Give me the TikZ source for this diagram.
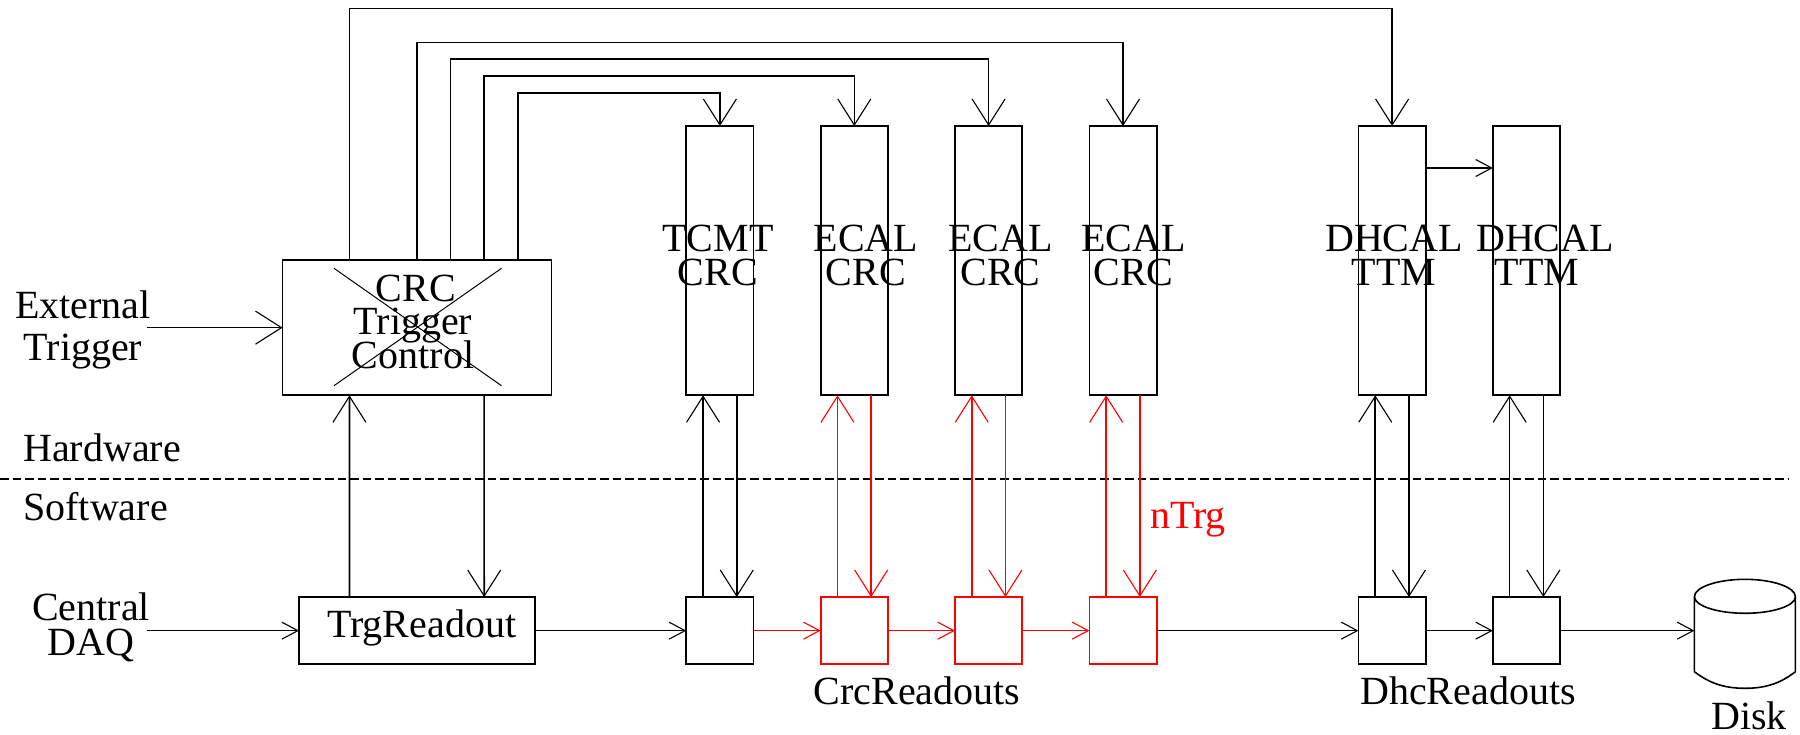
\documentclass[tikz,border=0pt]{standalone}
\usepackage{fontspec}
\setmainfont{Liberation Serif}
\usetikzlibrary{arrows.meta}
\lineskiplimit=-100pt
\definecolor{sigred}{RGB}{255,0,0}
\tikzset{
  conn/.style={line width=1.6pt,-{Straight Barb[length=26pt,width=33pt,line width=1.1pt]}},
  hconn/.style={line width=1.6pt,-{Straight Barb[length=16pt,width=17pt,line width=1.1pt]}},
  bigbox/.style={draw,line width=1.7pt,inner sep=0pt,outer sep=0pt,minimum width=67.3pt,minimum height=269.3pt},
  smallbox/.style={draw,line width=1.7pt,inner sep=0pt,outer sep=0pt,minimum width=67.3pt,minimum height=67.3pt},
  lbl/.style={inner sep=0pt,outer sep=0pt,align=center,anchor=base,font=\fontsize{40pt}{33.3pt}\selectfont},
  xline/.style={line width=1pt},
}
\begin{document}
\begin{tikzpicture}[x=1pt,y=-1pt]
\useasboundingbox (0,0) rectangle (1800,734);
% hardware boxes
\node[draw,line width=1.7pt,inner sep=0pt,outer sep=0pt,minimum width=268.9pt,minimum height=135.3pt] (crc) at (417,327.65) {};
\node[bigbox] (t0) at (719.9,260.65) {};
\node[bigbox] (t1) at (854.3,260.65) {};
\node[bigbox] (t2) at (988.6,260.65) {};
\node[bigbox] (t3) at (1123,260.65) {};
\node[bigbox] (d1) at (1392.1,260.65) {};
\node[bigbox] (d2) at (1526.5,260.65) {};
% readout boxes
\node[draw,line width=1.7pt,inner sep=0pt,outer sep=0pt,minimum width=236pt,minimum height=67.3pt] (trg) at (417,630.65) {};
\node[smallbox] (s0) at (719.9,630.65) {};
\node[smallbox,draw=sigred] (s1) at (854.3,630.65) {};
\node[smallbox,draw=sigred] (s2) at (988.6,630.65) {};
\node[smallbox,draw=sigred] (s3) at (1123,630.65) {};
\node[smallbox] (r1) at (1392.1,630.65) {};
\node[smallbox] (r2) at (1526.5,630.65) {};
% cross-out
\coordinate (xa) at (334,268.3);
\coordinate (xb) at (501.5,385.7);
\coordinate (xc) at (501.5,268.3);
\coordinate (xd) at (334,385.7);
\draw[xline] (xa) -- (xb);
\draw[xline] (xc) -- (xd);
% labels
\node[lbl] (lcrc) at (413,368) {\hspace*{6pt}CRC\\Trigger\\Control};
\node[lbl] (l0) at (718,285) {TCMT\\CRC};
\node[lbl] (l1) at (866,285) {ECAL\\CRC};
\node[lbl] (l2) at (1000.5,285) {ECAL\\CRC};
\node[lbl] (l3) at (1133.5,285) {ECAL\\CRC};
\node[lbl] (l4) at (1394,285) {DHCAL\\TTM};
\node[lbl] (l5) at (1545,285) {DHCAL\\\hspace*{-16pt}TTM};
\node[lbl,font=\fontsize{40pt}{41.5pt}\selectfont] (lext) at (83,360) {External\\Trigger};
\node[lbl,font=\fontsize{40pt}{34.3pt}\selectfont] (ldaq) at (91,655) {Central\\DAQ};
\node[lbl] (lhw) at (102,461) {Hardware};
\node[lbl] (lsw) at (95.6,520) {Software};
\node[lbl] (ltrg) at (421.7,637.3) {TrgReadout};
\node[lbl] (lcrcr) at (917,704) {CrcReadouts};
\node[lbl] (ldhc) at (1468,704) {DhcReadouts};
\node[lbl] (ldisk) at (1749,729.3) {Disk};
\node[lbl,text=sigred] (lntrg) at (1188,528.3) {nTrg};
% separator
\coordinate (sepl) at (0,479.3);
\coordinate (sepr) at (1788,479.3);
\draw[line width=2pt,dash pattern=on 8.5pt off 4pt] (sepl) -- (sepr);
% trigger fan-out
\coordinate (c1) at (d1.north |- 0,8.3);
\coordinate (c2) at (t3.north |- 0,42.3);
\coordinate (c3) at (t2.north |- 0,59);
\coordinate (c4) at (t1.north |- 0,75.7);
\coordinate (c5) at (t0.north |- 0,92.7);
\draw[conn] ([xshift=66.9pt]crc.north west) |- (c1) -- (d1.north);
\draw[conn] ([xshift=134.2pt]crc.north west) |- (c2) -- (t3.north);
\draw[conn] ([xshift=167.9pt]crc.north west) |- (c3) -- (t2.north);
\draw[conn] ([xshift=201.6pt]crc.north west) |- (c4) -- (t1.north);
\draw[conn] ([xshift=235.3pt]crc.north west) |- (c5) -- (t0.north);
% external inputs
\coordinate (ext) at (147.4,327.65);
\coordinate (daq) at (147.4,630.65);
\draw[conn] (ext) -- (crc.west);
\draw[hconn] (daq) -- (trg.west);
% CRC <-> TrgReadout
\draw[conn] ([xshift=50.5pt]trg.north west) -- ([xshift=66.9pt]crc.south west);
\draw[conn] ([xshift=201.6pt]crc.south west) -- ([xshift=185.2pt]trg.north west);
% board <-> readout
\draw[conn] ([xshift=16.8pt]s0.north west) -- ([xshift=16.8pt]t0.south west);
\draw[conn] ([xshift=-16.8pt]t0.south east) -- ([xshift=-16.8pt]s0.north east);
\draw[conn,sigred] ([xshift=16.8pt]s1.north west) -- ([xshift=16.8pt]t1.south west);
\draw[conn,sigred] ([xshift=-16.8pt]t1.south east) -- ([xshift=-16.8pt]s1.north east);
\draw[conn,sigred] ([xshift=16.8pt]s2.north west) -- ([xshift=16.8pt]t2.south west);
\draw[conn,sigred] ([xshift=-16.8pt]t2.south east) -- ([xshift=-16.8pt]s2.north east);
\draw[conn,sigred] ([xshift=16.8pt]s3.north west) -- ([xshift=16.8pt]t3.south west);
\draw[conn,sigred] ([xshift=-16.8pt]t3.south east) -- ([xshift=-16.8pt]s3.north east);
\draw[conn] ([xshift=16.8pt]r1.north west) -- ([xshift=16.8pt]d1.south west);
\draw[conn] ([xshift=-16.8pt]d1.south east) -- ([xshift=-16.8pt]r1.north east);
\draw[conn] ([xshift=16.8pt]r2.north west) -- ([xshift=16.8pt]d2.south west);
\draw[conn] ([xshift=-16.8pt]d2.south east) -- ([xshift=-16.8pt]r2.north east);
% readout chain
\coordinate (diskin) at (1694.4,630.65);
\draw[hconn] (trg.east) -- (s0.west);
\draw[hconn,sigred] (s0.east) -- (s1.west);
\draw[hconn,sigred] (s1.east) -- (s2.west);
\draw[hconn,sigred] (s2.east) -- (s3.west);
\draw[hconn] (s3.east) -- (r1.west);
\draw[hconn] (r1.east) -- (r2.west);
\draw[hconn] (r2.east) -- (diskin);
\draw[hconn] ([yshift=92.65pt]d1.east) -- ([yshift=92.65pt]d2.west);
% disk
\draw[line width=1.6pt,line join=round]
  (1694.4,596.7) .. controls (1694.4,587) and (1718,579.3) .. (1745,579.3)
  .. controls (1772,579.3) and (1795.4,587) .. (1795.4,596.7)
  .. controls (1795.4,606) and (1772,613.3) .. (1745,613.3)
  .. controls (1718,613.3) and (1694.4,606) .. (1694.4,596.7) -- cycle
  (1694.4,596.7) -- (1694.4,671.7) .. controls (1708,682) and (1722,688.3) .. (1745,688.3)
  .. controls (1768,688.3) and (1782,682) .. (1795.4,671.7) -- (1795.4,596.7);
\end{tikzpicture}
\end{document}
